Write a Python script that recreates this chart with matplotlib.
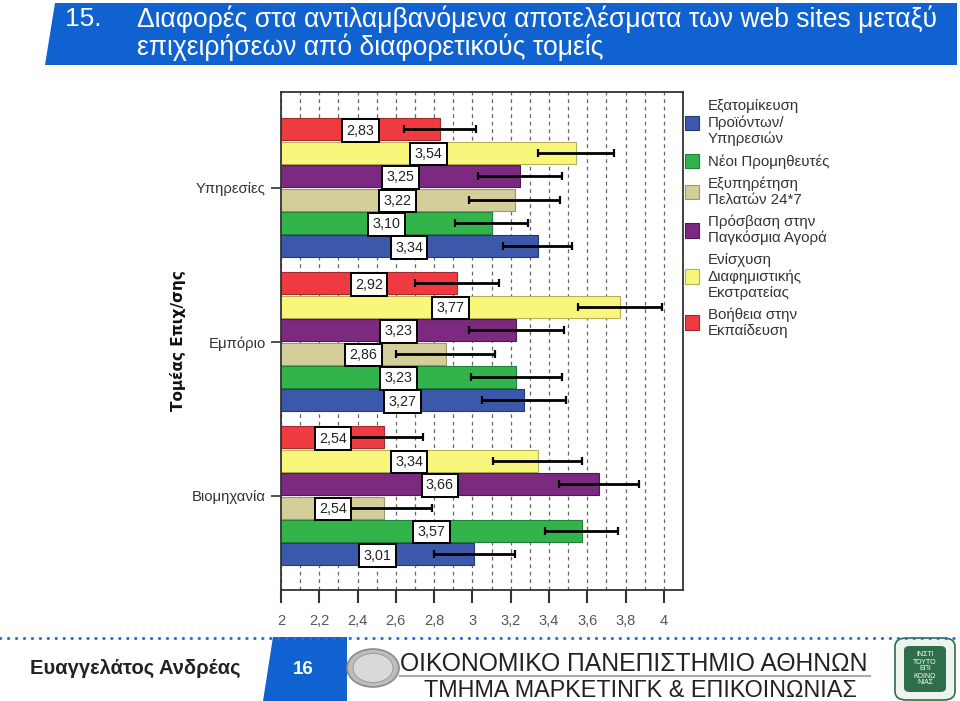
import numpy as np
import matplotlib
matplotlib.use("Agg")
import matplotlib.pyplot as plt
from matplotlib.patches import Polygon, Circle, Patch, FancyBboxPatch
from matplotlib.lines import Line2D
from matplotlib.ticker import MultipleLocator, FuncFormatter

# === Daten ===
sectors = ["Υπηρεσίες", "Εμπόριο", "Βιομηχανία"]

# Reihenfolge innerhalb einer Gruppe: von oben nach unten
series_labels = [
    "Βοήθεια στην\nΕκπαίδευση",
    "Ενίσχυση\nΔιαφημιστικής\nΕκστρατείας",
    "Πρόσβαση στην\nΠαγκόσμια Αγορά",
    "Εξυπηρέτηση\nΠελατών 24*7",
    "Νέοι Προμηθευτές",
    "Εξατομίκευση\nΠροϊόντων/\nΥπηρεσιών",
]
series_colors = ["#ef3a42", "#f8f77c", "#7b2a80", "#d4ce9a", "#33b44b", "#3c58aa"]
series_edges = ["#a02a2e", "#b5b15a", "#4e1a52", "#9c9670", "#23803a", "#27397a"]

mean_edu = [2.83, 2.92, 2.54]
mean_adv = [3.54, 3.77, 3.34]
mean_global = [3.25, 3.23, 3.66]
mean_service = [3.22, 2.86, 2.54]
mean_suppliers = [3.10, 3.23, 3.57]
mean_custom = [3.34, 3.27, 3.01]

err_edu = [0.19, 0.22, 0.20]
err_adv = [0.20, 0.22, 0.23]
err_global = [0.22, 0.25, 0.21]
err_service = [0.24, 0.26, 0.25]
err_suppliers = [0.19, 0.24, 0.19]
err_custom = [0.18, 0.22, 0.21]

means = [mean_edu, mean_adv, mean_global, mean_service, mean_suppliers, mean_custom]
errors = [err_edu, err_adv, err_global, err_service, err_suppliers, err_custom]

x_ticks = [2, 2.2, 2.4, 2.6, 2.8, 3, 3.2, 3.4, 3.6, 3.8, 4]

W, H = 960, 701
FONT = ["Liberation Sans", "DejaVu Sans"]
plt.rcParams["font.family"] = FONT


def fx(x):
    return x / W


def fy(y):
    return 1 - y / H


fig = plt.figure(figsize=(W / 100, H / 100), dpi=100)
fig.patch.set_facecolor("white")

# === Titelbalken ===
title_poly = Polygon([(fx(55), fy(3)), (fx(957), fy(3)), (fx(957), fy(65)), (fx(45), fy(65))],
                     closed=True, transform=fig.transFigure, facecolor="#0f62cf",
                     edgecolor="none", zorder=0)
fig.patches.append(title_poly)
fig.text(fx(65), fy(19), "15.", color="white", fontsize=19, va="center", ha="left")
fig.text(fx(137), fy(19), "Διαφορές στα αντιλαμβανόμενα αποτελέσματα των web sites μεταξύ",
         color="white", fontsize=19.1, va="center", ha="left")
fig.text(fx(137), fy(47), "επιχειρήσεων από διαφορετικούς τομείς",
         color="white", fontsize=19.1, va="center", ha="left")

# === Diagramm ===
ax_l, ax_r, ax_t, ax_b = 281, 683, 92, 590
ax = fig.add_axes([fx(ax_l), fy(ax_b), (ax_r - ax_l) / W, (ax_b - ax_t) / H])

group_pitch = 6.58
centers = 4.1 + np.arange(len(sectors)) * group_pitch
n = len(means)

for i in range(n):
    ypos = centers + (i - (n - 1) / 2)
    ax.barh(ypos, means[i], height=0.94, color=series_colors[i],
            edgecolor=series_edges[i], linewidth=0.8, zorder=2)
    ax.errorbar(means[i], ypos, xerr=errors[i], fmt="none", ecolor="black",
                elinewidth=2, capsize=3, capthick=1.6, zorder=3)
    for v, y in zip(means[i], ypos):
        ax.text((2 + v) / 2, y + 0.05, f"{v:.2f}".replace(".", ","), ha="center",
                va="center", fontsize=10.3, color="#222", zorder=4,
                bbox=dict(boxstyle="square,pad=0.3", facecolor="white",
                          edgecolor="black", linewidth=1.4))

ax.set_xlim(2, 4.1)
ax.set_ylim(21.28, 0)
ax.xaxis.set_minor_locator(MultipleLocator(0.1))
ax.set_xticks(x_ticks)
ax.xaxis.set_major_formatter(FuncFormatter(lambda v, p: f"{v:g}".replace(".", ",")))
ax.grid(which="both", axis="x", linestyle=(0, (3, 3)), color="#666666", linewidth=0.9, zorder=0)
ax.set_axisbelow(True)
ax.tick_params(axis="x", which="major", length=9, width=1.5, color="#333",
               labelsize=10.5, labelcolor="#555", pad=8)
ax.tick_params(axis="x", which="minor", length=0)
ax.set_yticks(centers)
ax.set_yticklabels(sectors)
ax.tick_params(axis="y", length=7, width=1.2, color="#333", labelsize=10.7,
               labelcolor="#333", pad=4)
for sp in ax.spines.values():
    sp.set_color("#333")
    sp.set_linewidth(1.3)

fig.text(fx(178), fy(341), "Τομέας Επιχ/σης", rotation=90, fontsize=11,
         fontweight="bold", ha="center", va="center", color="#111",
         family=["DejaVu Sans"])

# === Legende (umgekehrte Reihenfolge) ===
handles = [Patch(facecolor=series_colors[i], edgecolor=series_edges[i], linewidth=0.8)
           for i in range(n)][::-1]
leg = fig.legend(handles, series_labels[::-1], loc="upper left",
                 bbox_to_anchor=(fx(685), fy(99)), frameon=False, fontsize=10.8,
                 labelcolor="#333", handlelength=0.95, handleheight=1.1,
                 handletextpad=0.55, labelspacing=0.5, borderpad=0, borderaxespad=0)
for t in leg.get_texts():
    t.set_linespacing(1.18)

# === Fußzeile ===
fig.add_artist(Line2D([0, 1], [fy(638), fy(638)], transform=fig.transFigure,
                      color="#2b6fd6", linewidth=2.2, linestyle=(0, (0.1, 2.5)),
                      dash_capstyle="round"))
page_poly = Polygon([(fx(273), fy(637)), (fx(347), fy(637)), (fx(347), fy(701)), (fx(263), fy(701))],
                    closed=True, transform=fig.transFigure, facecolor="#0f62cf", edgecolor="none")
fig.patches.append(page_poly)
fig.text(fx(303), fy(670), "16", color="white", fontsize=13.5, fontweight="bold",
         ha="center", va="center")
fig.text(fx(135), fy(668), "Ευαγγελάτος Ανδρέας", color="#222", fontsize=14.5,
         fontweight="bold", ha="center", va="center")

# Münz-Logo
fig.patches.append(Circle((fx(373), fy(668)), 26 / W, transform=fig.transFigure,
                          facecolor="#bdbdbd", edgecolor="#8a8a8a", linewidth=1.2))
fig.patches.append(Circle((fx(373), fy(668)), 20 / W, transform=fig.transFigure,
                          facecolor="#d9d9d9", edgecolor="#a0a0a0", linewidth=0.8))

fig.text(fx(634), fy(671), "ΟΙΚΟΝΟΜΙΚΟ ΠΑΝΕΠΙΣΤΗΜΙΟ ΑΘΗΝΩΝ", color="#222",
         fontsize=17.8, ha="center", va="baseline")
fig.add_artist(Line2D([fx(400), fx(870)], [fy(676), fy(676)], transform=fig.transFigure,
                      color="#aaaaaa", linewidth=1.5))
fig.text(fx(640), fy(697), "ΤΜΗΜΑ ΜΑΡΚΕΤΙΝΓΚ & ΕΠΙΚΟΙΝΩΝΙΑΣ", color="#222",
         fontsize=16.8, ha="center", va="baseline")

# Institut-Logo
fig.patches.append(FancyBboxPatch((fx(895), fy(700)), 60 / W, 62 / H,
                                  boxstyle="round,pad=0,rounding_size=0.012",
                                  transform=fig.transFigure, facecolor="#eef3ee",
                                  edgecolor="#2f6e4a", linewidth=1.2))
fig.patches.append(FancyBboxPatch((fx(904), fy(692)), 42 / W, 46 / H,
                                  boxstyle="round,pad=0,rounding_size=0.006",
                                  transform=fig.transFigure, facecolor="#2f6e4a",
                                  edgecolor="none"))
fig.text(fx(925), fy(669), "ΙΝΣΤΙ\nΤΟΥΤΟ\nΕΠΙ\nΚΟΙΝΩ\nΝΙΑΣ", color="white",
         fontsize=5, ha="center", va="center", linespacing=1.0)

fig.savefig("out.png", dpi=100)
